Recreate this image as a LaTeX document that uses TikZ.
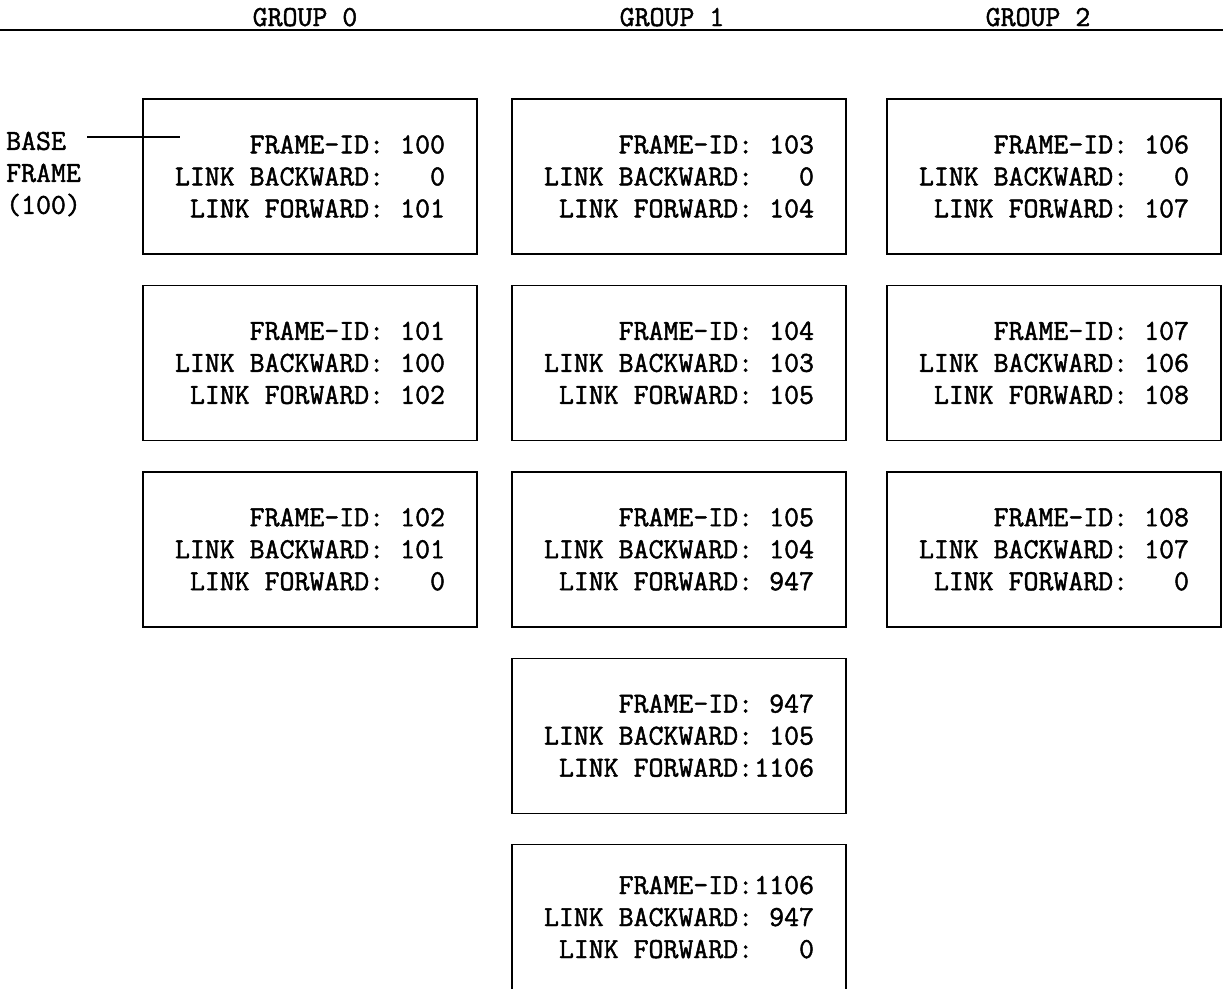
\documentclass[tikz,border=0pt]{standalone}
\usepackage{fontspec}
\setmonofont{Latin Modern Mono}[FakeBold=1.6]
\usetikzlibrary{positioning}

% one frame: id, backward link, forward link (numbers right justified in 4 columns)
\newcommand{\framebody}[3]{FRAME-ID:\makebox[2.1em][r]{#1}\\LINK BACKWARD:\makebox[2.1em][r]{#2}\\LINK FORWARD:\makebox[2.1em][r]{#3}}

\begin{document}
\begin{tikzpicture}[
    x=1pt, y=-1pt,
    node distance=30pt,
    typed/.style={font={\fontsize{29}{32}\selectfont\ttfamily}},
    frm/.style={typed, rectangle, draw, line width=1.4pt, minimum width=334pt, minimum height=155pt, align=right, inner sep=0pt},
    rule/.style={line width=1.6pt}
]
    \useasboundingbox (0,0) rectangle (1223,988);

    % Header
    \coordinate (hl) at (0,30);
    \coordinate (hr) at (1223,30);
    \draw[rule] (hl) -- (hr);
    \node[typed, anchor=base, inner sep=0pt] (g0) at (305,26) {GROUP 0};
    \node[typed, anchor=base, inner sep=0pt] (g1) at (672,26) {GROUP 1};
    \node[typed, anchor=base, inner sep=0pt] (g2) at (1038,26) {GROUP 2};

    % Group 0
    \node[frm] (f100) at (310,176.5) {\framebody{100}{0}{101}};
    \node[frm, below=of f100] (f101) {\framebody{101}{100}{102}};
    \node[frm, below=of f101] (f102) {\framebody{102}{101}{0}};

    % Group 1
    \node[frm] (f103) at (679,176.5) {\framebody{103}{0}{104}};
    \node[frm, below=of f103] (f104) {\framebody{104}{103}{105}};
    \node[frm, below=of f104] (f105) {\framebody{105}{104}{947}};
    \node[frm, below=of f105] (f947) {\framebody{947}{105}{1106}};
    \node[frm, below=of f947, minimum height=145pt] (f1106) {\framebody{1106}{947}{0}};

    % Group 2
    \node[frm] (f106) at (1054,176.5) {\framebody{106}{0}{107}};
    \node[frm, below=of f106] (f107) {\framebody{107}{106}{108}};
    \node[frm, below=of f107] (f108) {\framebody{108}{107}{0}};

    % Base frame pointer
    \node[typed, anchor=west, align=left, inner xsep=6pt, inner ysep=0pt] (baselbl) at (0,174) {BASE\\FRAME\\(100)};
    \coordinate (btip) at (180,137);
    \draw[line width=1.4pt] (baselbl.east |- btip) -- (btip);
\end{tikzpicture}
\end{document}
